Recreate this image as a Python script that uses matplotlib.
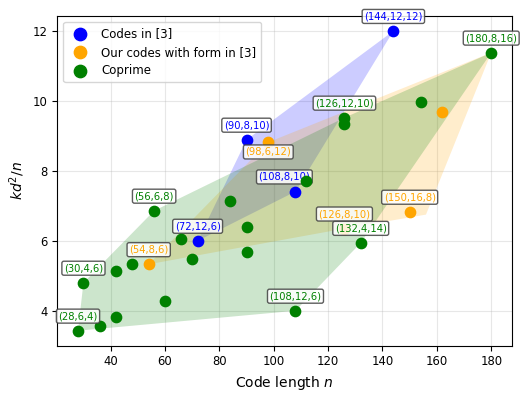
# kd^2/n against code length, three families of codes
import matplotlib
matplotlib.use("Agg")
import matplotlib.pyplot as plt

# codes from [3]
blue_n = [72, 90, 108, 144]
blue_y = [6.0, 8.89, 7.41, 12.0]
blue_lbl = ["(72,12,6)", "(90,8,10)", "(108,8,10)", "(144,12,12)"]

# our codes with the form in [3]
orange_n = [54, 98, 126, 150, 162]
orange_y = [5.33, 8.82, 6.35, 6.83, 9.68]
orange_lbl = ["(54,8,6)", "(98,6,12)", "(126,8,10)", "(150,16,8)", ""]

# coprime codes
green_n = [28, 30, 36, 42, 42, 48, 56, 60, 66, 70, 84, 90, 90, 108, 112, 126, 126, 132, 154, 180]
green_y = [3.43, 4.8, 3.56, 3.81, 5.14, 5.33, 6.86, 4.27, 6.06, 5.49, 7.14, 6.4, 5.69, 4.0,
           7.71, 9.52, 9.33, 5.94, 9.97, 11.38]
green_lbl = ["(28,6,4)", "(30,4,6)", "", "", "", "", "(56,6,8)", "", "", "", "", "", "",
             "(108,12,6)", "", "(126,12,10)", "", "(132,4,14)", "", "(180,8,16)"]

# shaded regions
blue_reg_n = [72, 108, 144, 90]
blue_reg_y = [6.0, 7.41, 12.0, 8.89]
orange_reg_n = [54, 126, 156, 180, 98]
orange_reg_y = [5.33, 6.35, 6.75, 11.38, 8.82]
green_reg_n = [28, 108, 132, 180, 126, 56, 30]
green_reg_y = [3.43, 4.0, 5.94, 11.38, 9.52, 6.86, 4.8]

# label offsets that differ from the default (points)
special_off = {"(98,6,12)": (0, -7), "(108,8,10)": (-8, 10.5)}

fig = plt.figure(figsize=(5.31, 3.99), dpi=100)
ax = fig.add_axes([0.108, 0.1336, 0.856, 0.8262])

ax.fill(blue_reg_n, blue_reg_y, color="blue", alpha=0.2, lw=0)
ax.fill(orange_reg_n, orange_reg_y, color="orange", alpha=0.2, lw=0)
ax.fill(green_reg_n, green_reg_y, color="green", alpha=0.2, lw=0)


def draw(ns, ys, lbls, col, name, z):
    ax.scatter(ns, ys, s=55, color=col, label=name, zorder=z)
    for n, y, t in zip(ns, ys, lbls):
        if not t:
            continue
        off = special_off.get(t, (0, 10.5))
        ax.annotate(t, (n, y), xytext=off, textcoords="offset points",
                    ha="center", va="center", fontsize=7.2, color=col, zorder=z + 0.5,
                    bbox=dict(boxstyle="round,pad=0.2", fc="white", ec="0.25", lw=1, alpha=0.85))


draw(blue_n, blue_y, blue_lbl, "blue", "Codes in [3]", 3)
draw(orange_n, orange_y, orange_lbl, "orange", "Our codes with form in [3]", 4)
draw(green_n, green_y, green_lbl, "green", "Coprime", 5)

ax.grid(True, alpha=0.3)
ax.set_axisbelow(True)
ax.tick_params(labelsize=8.4)
ax.set_xlabel("Code length $n$", fontsize=10)
ax.set_ylabel("$kd^2/n$", fontsize=10)
ax.legend(loc="upper left", fontsize=8.5, markerscale=1.2)

fig.savefig("out.png", dpi=100)
